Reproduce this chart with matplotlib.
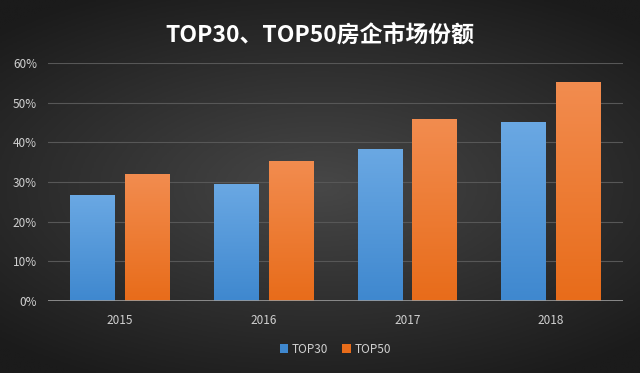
import numpy as np
import matplotlib.pyplot as plt
import matplotlib.colors as mcolors
from matplotlib.ticker import FuncFormatter

plt.rcParams['font.family'] = ['Noto Sans CJK SC', 'DejaVu Sans']

years = ['2015', '2016', '2017', '2018']
top30 = [26.7, 29.5, 38.3, 45.1]
top50 = [32.0, 35.3, 45.8, 55.2]
series = ['TOP30', 'TOP50']

blue_top, blue_bot = '#6aa8e3', '#3f88cf'
orange_top, orange_bot = '#f28c4f', '#e86c1a'

fig = plt.figure(figsize=(6.4, 3.73), dpi=100)

# dark radial background
bg = fig.add_axes([0, 0, 1, 1])
yy, xx = np.mgrid[-1:1:200j, -1:1:340j]
r = np.sqrt((xx * 0.9) ** 2 + (yy * 1.1) ** 2)
bg_cmap = mcolors.LinearSegmentedColormap.from_list('bg', ['#474747', '#1b1b1b'])
bg.imshow(r, cmap=bg_cmap, aspect='auto', extent=[0, 1, 0, 1], vmin=0, vmax=1.3)
bg.set_axis_off()

ax = fig.add_axes([0.075, 0.193, 0.898, 0.638])
ax.patch.set_alpha(0)

x = np.arange(len(years))
w = 0.31
off = 0.19

def grad_bars(bars, c_top, c_bot):
    cmap = mcolors.LinearSegmentedColormap.from_list('g', [c_bot, c_top])
    grad = np.linspace(0, 1, 100).reshape(-1, 1)
    for b in bars:
        x0, y0 = b.get_x(), b.get_y()
        im = ax.imshow(grad, cmap=cmap, aspect='auto', origin='lower',
                       extent=[x0, x0 + b.get_width(), y0, y0 + b.get_height()], zorder=3)
        im.set_clip_path(b)

b1 = ax.bar(x - off, top30, w, color=blue_bot, label=series[0], zorder=2)
b2 = ax.bar(x + off, top50, w, color=orange_bot, label=series[1], zorder=2)
grad_bars(b1, blue_top, blue_bot)
grad_bars(b2, orange_top, orange_bot)

ax.set_xlim(-0.5, 3.5)
ax.set_ylim(0, 60)
ax.set_yticks(np.arange(0, 61, 10))
ax.yaxis.set_major_formatter(FuncFormatter(lambda v, p: f'{v:.0f}%'))
ax.set_xticks(x)
ax.set_xticklabels(years)
ax.grid(True, axis='y', color='#575757', lw=0.8, zorder=0)
ax.axhline(0, color='#9a9a9a', lw=1.2, zorder=4)
for s in ax.spines.values():
    s.set_visible(False)
ax.tick_params(length=0, colors='#d0d0d0', labelsize=8.5)
ax.tick_params(axis='x', pad=9)
ax.tick_params(axis='y', pad=8)

fig.text(0.5, 0.906, 'TOP30、TOP50房企市场份额', color='white', fontsize=16.5,
         fontweight='bold', ha='center', va='center')

leg = ax.legend(loc='upper center', bbox_to_anchor=(0.5, -0.13), ncol=2, frameon=False,
                fontsize=8.5, handlelength=0.7, handleheight=0.7, handletextpad=0.3,
                columnspacing=1.2)
for t in leg.get_texts():
    t.set_color('#d0d0d0')

fig.savefig('out.png', dpi=100)
